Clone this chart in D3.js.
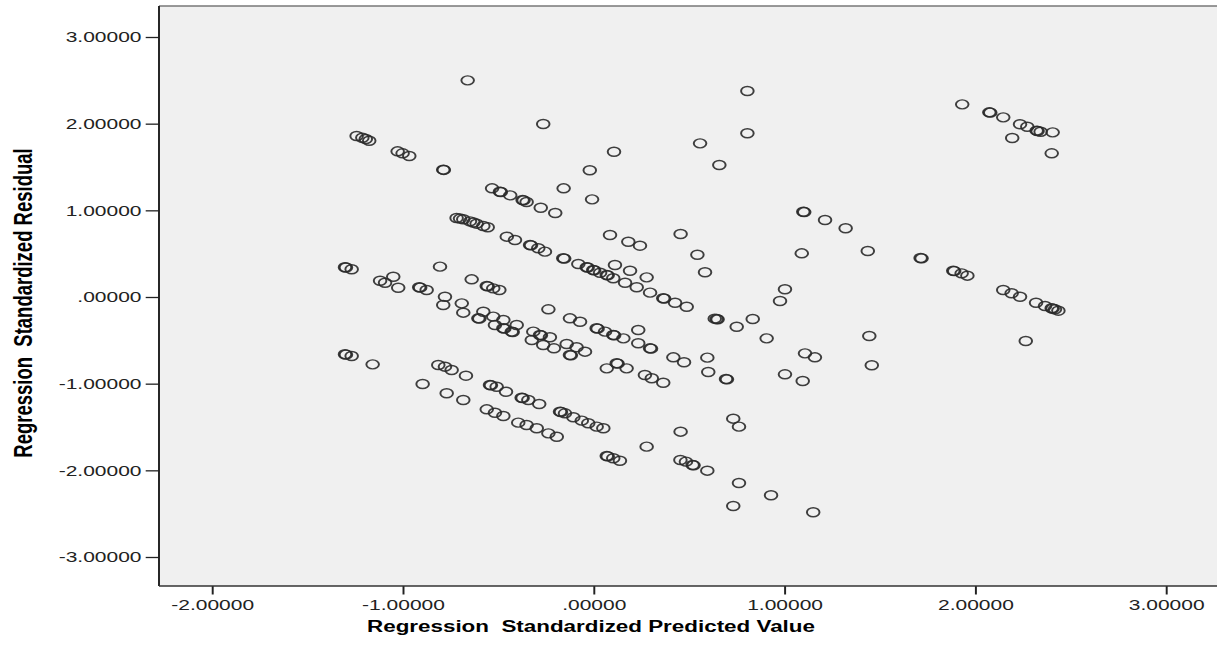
<!DOCTYPE html>
<html><head><meta charset="utf-8">
<script src="https://cdn.jsdelivr.net/npm/d3@7"></script>
<style>body{margin:0;background:#fff}svg{display:block}</style>
</head><body><svg id="c" width="1217" height="647"></svg>
<script>
// Regression Standardized Predicted Value (x) and Standardized Residual (y)
const predicted = [
-0.660,-0.264,0.107,-0.020,-0.157,-0.008,-1.242,-1.212,-1.194,-1.176,
-1.027,-1.001,-0.966,-0.788,-0.785,-0.532,-0.491,-0.486,-0.437,-0.372,
-0.367,-0.351,-0.277,-0.201,-0.718,-0.700,-0.683,-0.648,-0.630,-0.613,
-0.578,-0.555,-0.455,-0.412,-0.333,-0.328,-0.290,-0.255,-0.159,-0.154,
-0.080,-0.036,-0.031,-0.002,0.003,0.034,0.069,0.074,0.103,0.165,
0.226,0.296,0.365,0.370,0.427,0.086,0.182,0.243,0.456,0.112,
0.191,0.278,-1.303,-1.298,-1.268,-0.805,-1.050,-1.119,-1.093,-1.024,
-0.914,-0.909,-0.875,-0.639,-0.560,-0.555,-0.526,-0.494,-0.779,-0.788,
-0.691,-0.683,-0.578,-0.604,-0.599,-0.526,-0.473,-0.517,-0.473,-0.468,
-0.429,-0.424,-0.403,-0.237,-0.124,-0.071,0.016,0.021,0.060,0.103,
0.108,0.156,0.234,-0.316,-0.281,-0.276,-0.229,-0.324,-0.264,-0.208,
-0.141,-0.089,-0.045,-0.124,-0.119,0.234,0.296,0.301,0.418,0.474,
-1.303,-1.298,-1.268,-1.158,-0.814,-0.779,-0.744,-0.669,-0.896,-0.770,
-0.683,-0.543,-0.538,-0.508,-0.459,-0.377,-0.372,-0.342,-0.285,-0.560,
-0.517,-0.473,-0.176,-0.171,-0.150,-0.106,-0.062,-0.028,0.121,0.126,
0.069,0.173,0.269,0.305,0.365,-0.395,-0.351,-0.298,0.016,0.051,
-0.237,-0.193,0.278,0.069,0.074,0.103,0.138,0.456,0.455,0.806,
0.806,0.558,0.659,1.099,1.104,1.213,1.321,0.544,0.584,1.091,
1.437,1.714,1.719,1.003,0.977,0.488,0.645,0.650,0.635,0.750,
0.834,0.907,1.445,0.596,0.601,0.694,0.699,1.108,1.160,1.003,
1.096,1.458,0.732,0.762,0.484,0.519,0.524,0.596,0.762,0.930,
0.732,1.151,1.932,2.074,2.079,2.147,2.235,2.273,2.322,2.327,
2.343,2.406,2.194,2.401,1.885,1.890,1.929,1.959,2.147,2.191,
2.235,2.319,2.366,2.401,2.406,2.418,2.436,2.265
];
const residual = [
2.500,1.996,1.676,1.462,1.254,1.127,1.858,1.838,1.823,1.803,
1.681,1.658,1.627,1.469,1.466,1.254,1.215,1.212,1.173,1.119,
1.115,1.096,1.030,0.969,0.912,0.905,0.897,0.873,0.860,0.846,
0.819,0.805,0.696,0.658,0.600,0.596,0.562,0.523,0.447,0.443,
0.381,0.343,0.340,0.312,0.309,0.280,0.254,0.250,0.216,0.165,
0.112,0.050,-0.015,-0.019,-0.066,0.715,0.638,0.592,0.727,0.369,
0.303,0.227,0.343,0.340,0.320,0.350,0.234,0.188,0.165,0.107,
0.112,0.108,0.081,0.204,0.127,0.123,0.100,0.081,0.003,-0.092,
-0.073,-0.181,-0.170,-0.246,-0.250,-0.227,-0.265,-0.323,-0.361,-0.365,
-0.400,-0.404,-0.323,-0.142,-0.246,-0.285,-0.361,-0.365,-0.400,-0.438,
-0.442,-0.477,-0.381,-0.400,-0.438,-0.442,-0.465,-0.496,-0.554,-0.592,
-0.542,-0.580,-0.631,-0.669,-0.673,-0.534,-0.592,-0.596,-0.696,-0.753,
-0.661,-0.665,-0.681,-0.777,-0.785,-0.804,-0.842,-0.908,-1.004,-1.111,
-1.188,-1.015,-1.019,-1.035,-1.093,-1.162,-1.166,-1.188,-1.235,-1.296,
-1.335,-1.373,-1.323,-1.327,-1.342,-1.388,-1.427,-1.457,-0.765,-0.769,
-0.823,-0.823,-0.900,-0.938,-0.989,-1.450,-1.477,-1.515,-1.496,-1.515,
-1.573,-1.612,-1.727,-1.835,-1.839,-1.861,-1.889,-1.554,-1.881,2.377,
1.889,1.773,1.523,0.984,0.980,0.888,0.793,0.488,0.285,0.504,
0.531,0.450,0.446,0.089,-0.046,-0.112,-0.254,-0.258,-0.250,-0.343,
-0.254,-0.477,-0.450,-0.700,-0.865,-0.946,-0.950,-0.650,-0.696,-0.892,
-0.969,-0.788,-1.404,-1.496,-1.900,-1.938,-1.942,-2.004,-2.146,-2.288,
-2.411,-2.484,2.223,2.131,2.127,2.073,1.993,1.965,1.919,1.915,
1.907,1.900,1.835,1.658,0.303,0.299,0.273,0.246,0.081,0.043,
0.003,-0.066,-0.104,-0.130,-0.134,-0.142,-0.158,-0.508
];
const xTicks = [-2, -1, 0, 1, 2, 3];
const xTickLabels = ["-2.00000", "-1.00000", ".00000", "1.00000", "2.00000", "3.00000"];
const yTicks = [-3, -2, -1, 0, 1, 2, 3];
const yTickLabels = ["-3.00000", "-2.00000", "-1.00000", ".00000", "1.00000", "2.00000", "3.00000"];
const xTitle = "Regression  Standardized Predicted Value";
const yTitle = "Regression  Standardized Residual";

(function () {
const points = predicted.map((p, i) => ({x: p, y: residual[i]}));

const S = 1.4; // the original image is stretched horizontally
const FONT = "'Liberation Sans', Arial, Helvetica, sans-serif";
const svg = d3.select("#c");
const g = svg.append("g").attr("transform", `scale(${S},1)`);

const pLeft = 159 / S, pRight = 1240 / S, pTop = 6, pBottom = 586;
const x = d3.scaleLinear().domain([-2, 3]).range([212 / S, 1166 / S]);
const y = d3.scaleLinear().domain([-3, 3]).range([557, 37]);

g.append("rect").attr("x", pLeft).attr("y", pTop)
  .attr("width", pRight - pLeft).attr("height", pBottom - pTop)
  .attr("fill", "#f0f0f0");
g.append("line").attr("x1", pLeft).attr("x2", pRight).attr("y1", pTop).attr("y2", pTop)
  .attr("stroke", "#777").attr("stroke-width", 1.3);

g.append("g").selectAll("circle").data(points).join("circle")
  .attr("cx", d => x(d.x)).attr("cy", d => y(d.y)).attr("r", 4.5)
  .attr("fill", "none").attr("stroke", "#2a2a2a").attr("stroke-width", 1.4)
  .attr("stroke-opacity", 0.9);

// Y axis
const ya = g.append("g").attr("transform", `translate(${pLeft},0)`)
  .call(d3.axisLeft(y).tickValues(yTicks).tickFormat((d, i) => yTickLabels[i]).tickSize(9.5).tickPadding(3));
ya.select(".domain").remove();
ya.attr("font-family", FONT).attr("font-size", 15);
ya.selectAll("line").attr("stroke", "#222").attr("stroke-width", 1.3);
ya.selectAll("text").attr("fill", "#222");

// X axis
const xa = g.append("g").attr("transform", `translate(0,${pBottom})`)
  .call(d3.axisBottom(x).tickValues(xTicks).tickFormat((d, i) => xTickLabels[i]).tickSize(8.5).tickPadding(5));
xa.select(".domain").remove();
xa.attr("font-family", FONT).attr("font-size", 15);
xa.selectAll("line").attr("stroke", "#222").attr("stroke-width", 1.4);
xa.selectAll("text").attr("fill", "#222");

// axis lines
g.append("line").attr("x1", pLeft).attr("x2", pLeft).attr("y1", pTop).attr("y2", pBottom)
  .attr("stroke", "#222").attr("stroke-width", 1.4);
g.append("line").attr("x1", pLeft).attr("x2", pRight).attr("y1", pBottom).attr("y2", pBottom)
  .attr("stroke", "#333").attr("stroke-width", 1.3);

// titles
g.append("text").attr("x", 591 / S).attr("y", 632)
  .attr("text-anchor", "middle").attr("font-family", FONT)
  .attr("font-weight", "bold").attr("font-size", 16).attr("fill", "#000")
  .style("white-space", "pre").text(xTitle);
g.append("text").attr("transform", `translate(${31.5 / S},303) rotate(-90)`)
  .attr("text-anchor", "middle").attr("font-family", FONT)
  .attr("font-weight", "bold").attr("font-size", 18.5).attr("fill", "#000")
  .style("white-space", "pre").text(yTitle);
})();
</script></body></html>
